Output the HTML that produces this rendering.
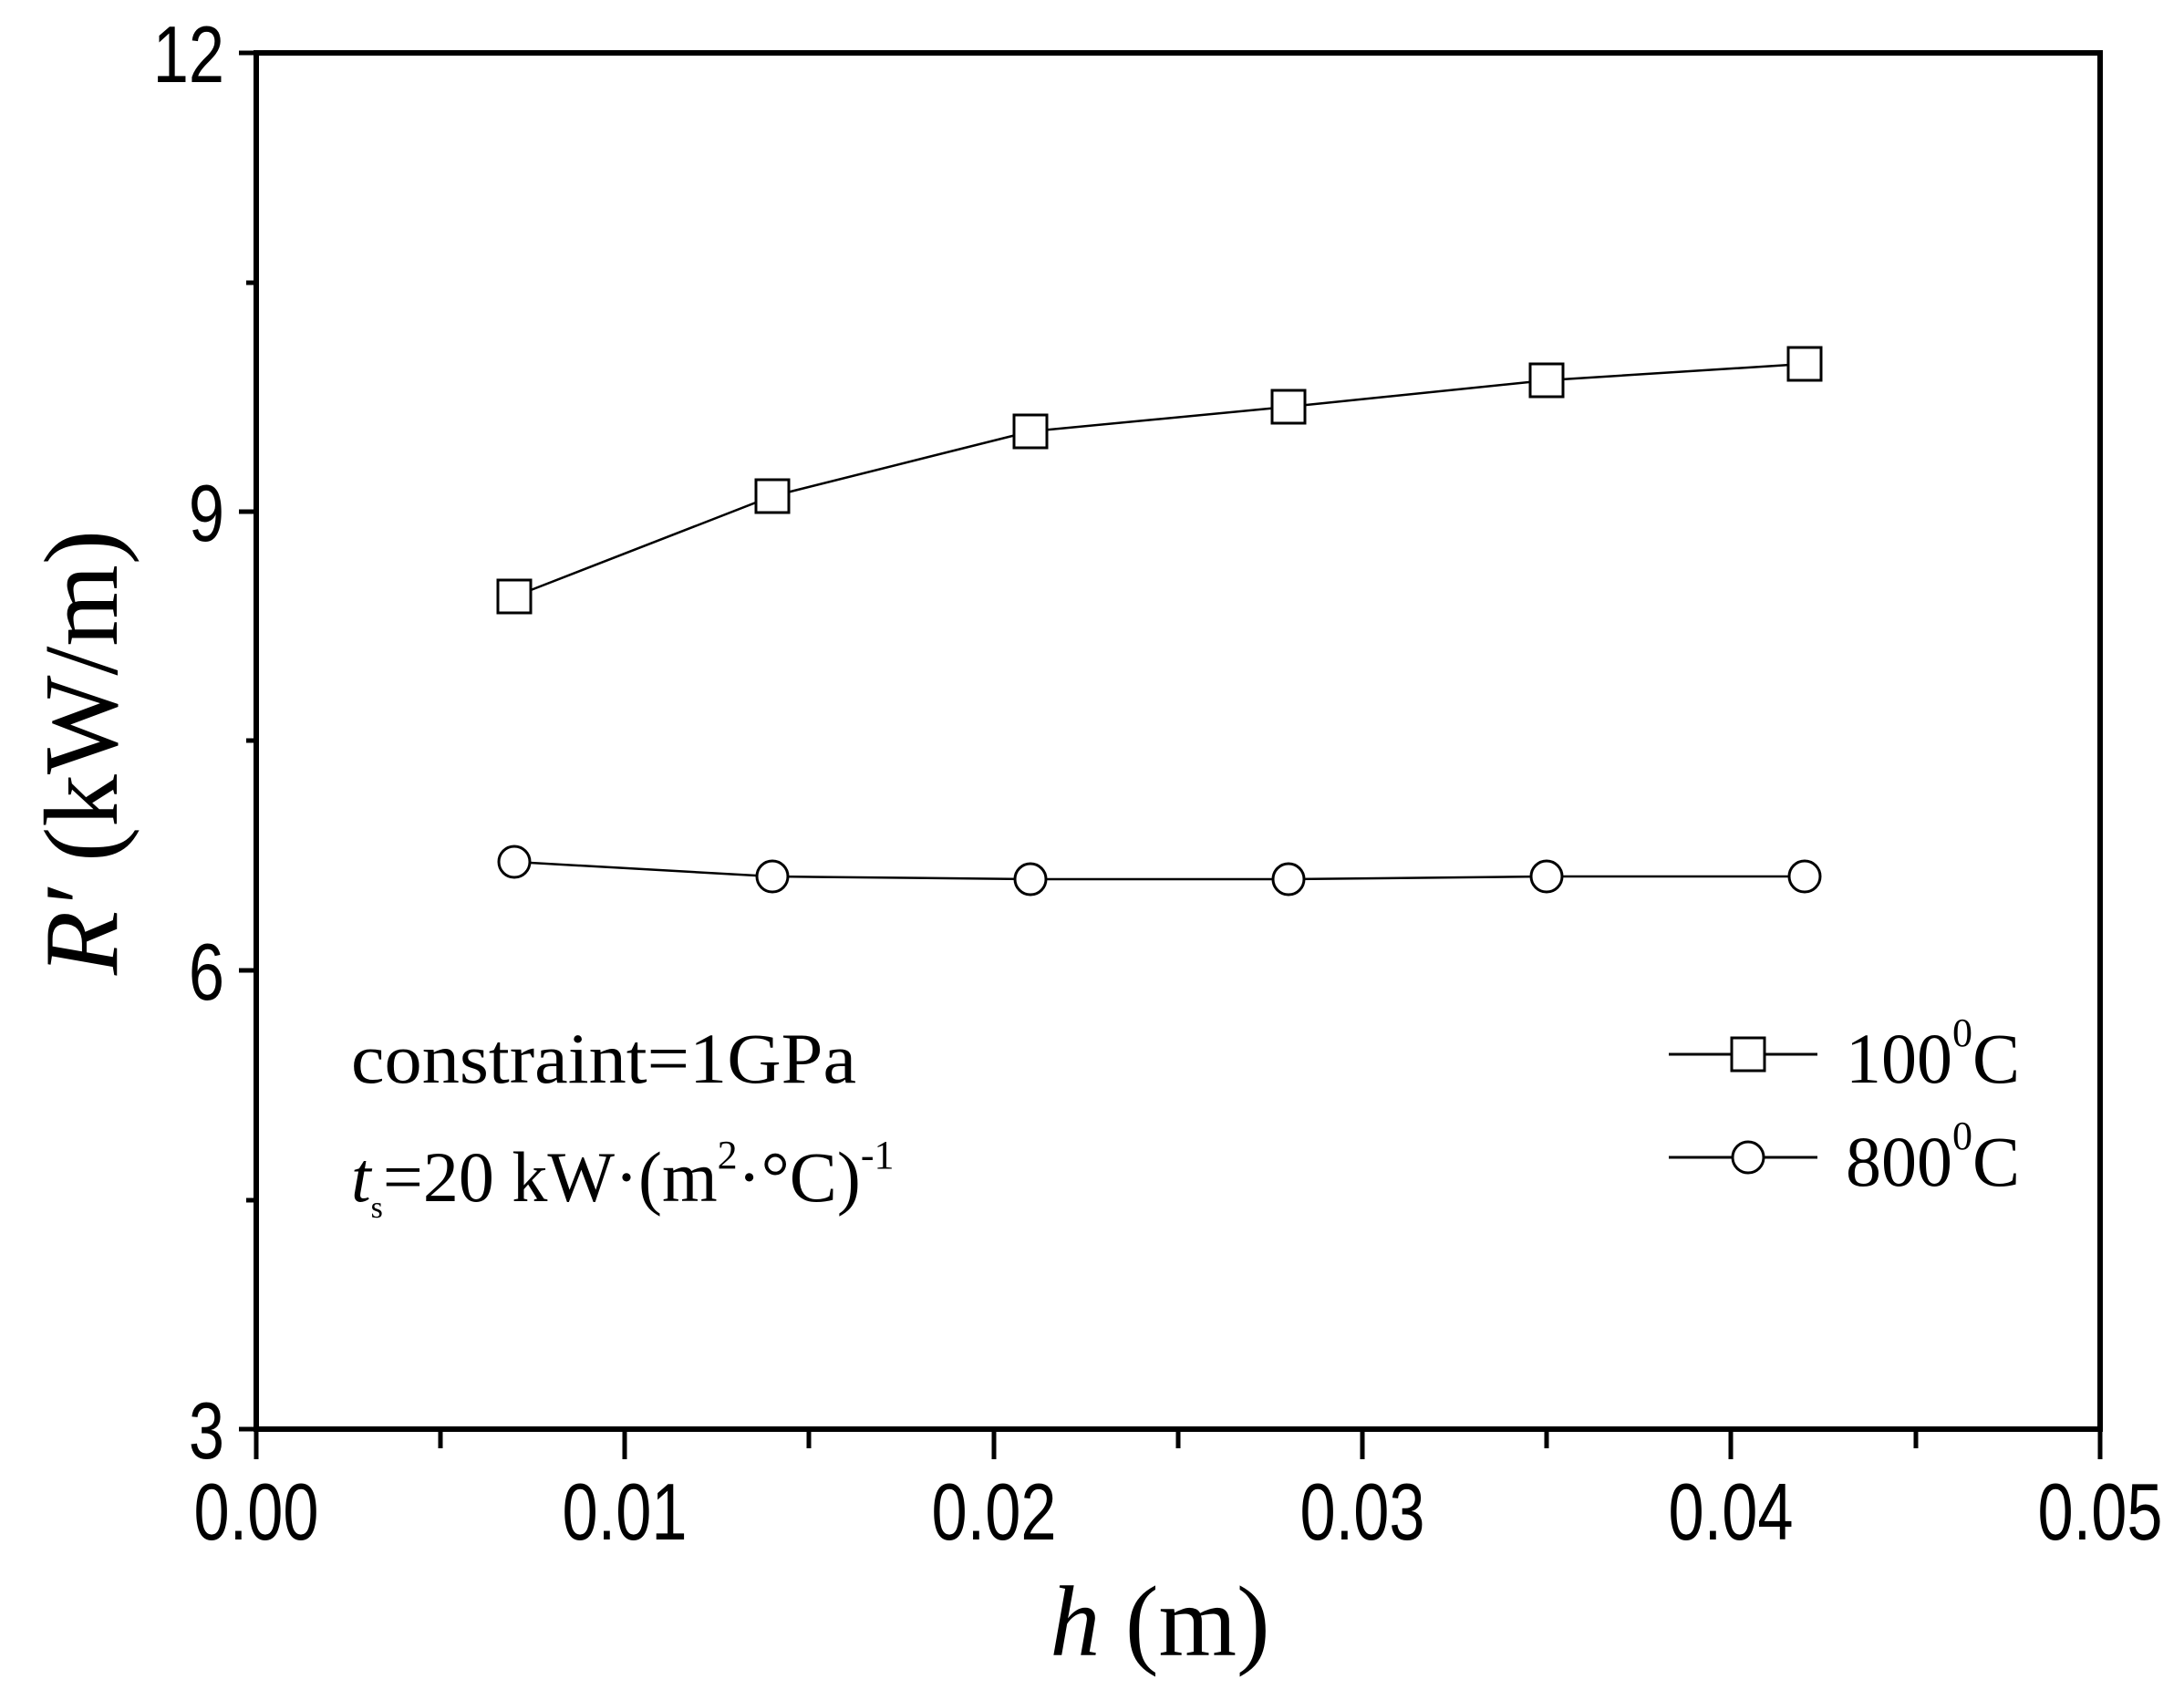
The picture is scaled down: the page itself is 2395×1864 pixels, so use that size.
<!DOCTYPE html>
<html><head><style>html,body{margin:0;padding:0;background:#fff}</style></head><body>
<svg width="2395" height="1859" viewBox="0 0 2395 1859" xmlns="http://www.w3.org/2000/svg">
<rect width="2395" height="1859" fill="#fff"/>
<g stroke="#000" fill="none">
<rect x="281" y="58" width="2022" height="1509" stroke-width="6"/>
<path d="M281 58H262M281 561H262M281 1064H262M281 1567H262M281 310H270M281 812H270M281 1316H270" stroke-width="5"/>
<path d="M281 1567V1600M685 1567V1600M1090 1567V1600M1494 1567V1600M1898 1567V1600M2303 1567V1600M483 1567V1588M887 1567V1588M1292 1567V1588M1696 1567V1588M2101 1567V1588" stroke-width="5"/>
<polyline points="564,654 847,544 1130,473 1413,446 1696,417 1979,399" stroke-width="2.5"/>
<polyline points="564,945 847,961 1130,964 1413,964 1696,961 1979,961" stroke-width="2.5"/>
</g>
<g stroke="#000" stroke-width="3" fill="#fff">
<rect x="546" y="636" width="36" height="36"/><rect x="829" y="526" width="36" height="36"/><rect x="1112" y="455" width="36" height="36"/><rect x="1395" y="428" width="36" height="36"/><rect x="1678" y="399" width="36" height="36"/><rect x="1961" y="381" width="36" height="36"/>
<circle cx="564" cy="945" r="17"/><circle cx="847" cy="961" r="17"/><circle cx="1130" cy="964" r="17"/><circle cx="1413" cy="964" r="17"/><circle cx="1696" cy="961" r="17"/><circle cx="1979" cy="961" r="17"/>
</g>
<g stroke="#000" stroke-width="3" fill="none">
<path d="M1830 1156H1993M1830 1269H1993"/>
<rect x="1899" y="1138" width="36" height="36" fill="#fff"/>
<circle cx="1917" cy="1269" r="17" fill="#fff"/>
</g>
<g font-family="Liberation Serif, serif" fill="#000" font-size="78">
<text x="2024" y="1187">100<tspan font-size="44" dy="-40">0</tspan><tspan dy="40">C</tspan></text>
<text x="2024" y="1300">800<tspan font-size="44" dy="-40">0</tspan><tspan dy="40">C</tspan></text>
<text x="385" y="1187" textLength="554" lengthAdjust="spacingAndGlyphs">constraint=1GPa</text>
<text x="385" y="1317"><tspan font-style="italic">t</tspan><tspan font-size="34" dy="18">s</tspan><tspan dy="-18">=20 kW·(m</tspan><tspan font-size="44" dy="-36">2</tspan><tspan dy="36">·°C)</tspan><tspan font-size="44" dy="-36">-1</tspan></text>
<text x="1272" y="1815" font-size="110" text-anchor="middle"><tspan font-style="italic">h</tspan> (m)</text>
<text transform="translate(128,825) rotate(-90)" font-size="115" text-anchor="middle"><tspan font-style="italic">R′</tspan> (kW/m)</text>
</g>
<g font-family="Liberation Sans, sans-serif" fill="#000" font-size="88">
<g text-anchor="end">
<text transform="translate(246 90) scale(0.8 1)">12</text>
<text transform="translate(246 593) scale(0.8 1)">9</text>
<text transform="translate(246 1096) scale(0.8 1)">6</text>
<text transform="translate(246 1599) scale(0.8 1)">3</text>
</g>
<g text-anchor="middle">
<text transform="translate(281 1688) scale(0.8 1)">0.00</text>
<text transform="translate(685 1688) scale(0.8 1)">0.01</text>
<text transform="translate(1090 1688) scale(0.8 1)">0.02</text>
<text transform="translate(1494 1688) scale(0.8 1)">0.03</text>
<text transform="translate(1898 1688) scale(0.8 1)">0.04</text>
<text transform="translate(2303 1688) scale(0.8 1)">0.05</text>
</g>
</g>
</svg>
</body></html>
